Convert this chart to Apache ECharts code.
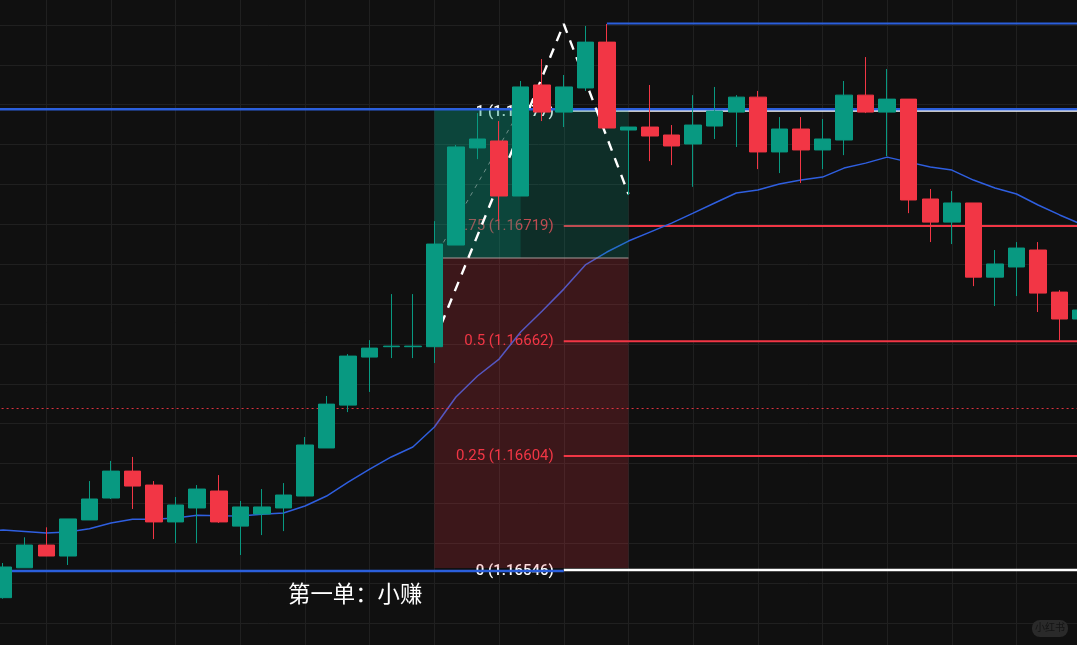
<!DOCTYPE html>
<html lang="en">
<head>
    <meta charset="UTF-8">
    <title>EURUSD trade review</title>
    <script src="https://cdn.jsdelivr.net/npm/echarts@6/dist/echarts.min.js"></script>
    <style>
        html, body { margin: 0; padding: 0; background: #101010; }
        #chart { width: 1077px; height: 645px; }
    </style>
</head>
<body>
<div id="chart"></div>

<script>
    // open, close, low, high, one row per candle
    var ohlc = [
        [1.165327, 1.165481, 1.165322, 1.165501],
        [1.165477, 1.165591, 1.165477, 1.165630],
        [1.165591, 1.165536, 1.165536, 1.165680],
        [1.165536, 1.165722, 1.165491, 1.165722],
        [1.165717, 1.165822, 1.165717, 1.165912],
        [1.165827, 1.165962, 1.165822, 1.166013],
        [1.165962, 1.165887, 1.165772, 1.166033],
        [1.165892, 1.165707, 1.165621, 1.165912],
        [1.165707, 1.165792, 1.165601, 1.165832],
        [1.165777, 1.165872, 1.165601, 1.165892],
        [1.165862, 1.165707, 1.165702, 1.165942],
        [1.165686, 1.165782, 1.165541, 1.165812],
        [1.165747, 1.165782, 1.165641, 1.165872],
        [1.165777, 1.165842, 1.165661, 1.165902],
        [1.165837, 1.166093, 1.165837, 1.166133],
        [1.166078, 1.166298, 1.166078, 1.166339],
        [1.166293, 1.166539, 1.166258, 1.166549],
        [1.166534, 1.166579, 1.166359, 1.166619],
        [1.166586, 1.166589, 1.166529, 1.166850],
        [1.166586, 1.166589, 1.166529, 1.166850],
        [1.166586, 1.167101, 1.166504, 1.167216],
        [1.167096, 1.167588, 1.167096, 1.167598],
        [1.167583, 1.167628, 1.167527, 1.167758],
        [1.167618, 1.167342, 1.167216, 1.167718],
        [1.167342, 1.167889, 1.167342, 1.167919],
        [1.167899, 1.167763, 1.167718, 1.168029],
        [1.167763, 1.167889, 1.167688, 1.167949],
        [1.167884, 1.168114, 1.167869, 1.168195],
        [1.168114, 1.167683, 1.167683, 1.168205],
        [1.167673, 1.167688, 1.167347, 1.167688],
        [1.167688, 1.167643, 1.167517, 1.167899],
        [1.167648, 1.167593, 1.167497, 1.167698],
        [1.167603, 1.167698, 1.167388, 1.167848],
        [1.167693, 1.167768, 1.167628, 1.167889],
        [1.167763, 1.167838, 1.167588, 1.167848],
        [1.167838, 1.167563, 1.167477, 1.167869],
        [1.167563, 1.167678, 1.167457, 1.167738],
        [1.167678, 1.167573, 1.167407, 1.167738],
        [1.167573, 1.167628, 1.167477, 1.167728],
        [1.167623, 1.167848, 1.167547, 1.167919],
        [1.167848, 1.167763, 1.167758, 1.168039],
        [1.167763, 1.167828, 1.167542, 1.167979],
        [1.167828, 1.167322, 1.167256, 1.167828],
        [1.167327, 1.167211, 1.167111, 1.167377],
        [1.167211, 1.167307, 1.167101, 1.167367],
        [1.167307, 1.166935, 1.166890, 1.167307],
        [1.166935, 1.167001, 1.166790, 1.167071],
        [1.166986, 1.167081, 1.166840, 1.167111],
        [1.167071, 1.166855, 1.166760, 1.167111],
        [1.166860, 1.166725, 1.166619, 1.166870],
        [1.166725, 1.166770, 1.166725, 1.166770]
    ];
    // first value sits one bar before the first candle, off the left edge
    var maLine = [
        1.165660,
        1.165666, 1.165659, 1.165651, 1.165656, 1.165673, 1.165702, 1.165720, 1.165720, 1.165727,
        1.165740, 1.165738, 1.165737, 1.165745, 1.165752, 1.165787, 1.165837, 1.165907, 1.165972,
        1.166033, 1.166083, 1.166183, 1.166334, 1.166439, 1.166524, 1.166660, 1.166765, 1.166875,
        1.166996, 1.167061, 1.167116, 1.167161, 1.167206, 1.167256, 1.167307, 1.167357, 1.167372,
        1.167402, 1.167422, 1.167437, 1.167482, 1.167507, 1.167537, 1.167512, 1.167487, 1.167472,
        1.167422, 1.167382, 1.167352, 1.167297, 1.167247, 1.167201
    ];

    // fib retracement, drawn from candle 26 to the right edge
    var fibStart = 26;
    var fibValues = [1.165466, 1.166038, 1.166614, 1.167191, 1.167771];
    var fibLabels = ['0 (1.16546)', '0.25 (1.16604)', '0.5 (1.16662)', '0.75 (1.16719)', '1 (1.16777)'];
    var fibIsWhite = [true, false, false, false, true];

    // blue levels: from candle, price
    var blueFrom = [0, 0, 28];
    var bluePrice = [1.165461, 1.167777, 1.168207];
    var lastPrice = 1.166276;

    // long position box
    var boxStart = 20, boxEnd = 29, boxSplit = 24;
    var boxTop = 1.167778, boxEntry = 1.167031, boxStop = 1.165476;

    // dashed path candle index / price
    var pathIdx = [20, 26, 29];
    var pathPrice = [1.166614, 1.168205, 1.167352];

    var LAST = ohlc.length + 1;
    var categories = [];
    for (var c = 0; c <= LAST; c++) categories.push('c' + c);

    function px(i) { return i + 1; } // first category is only padding

    var lineSeries = function (from, to, price, color, width, z, type, price2) {
        return {
            type: 'line',
            z: z,
            silent: true,
            showSymbol: false,
            symbol: 'none',
            lineStyle: {color: color, width: width, type: type || 'solid'},
            data: [[from, price], [to, price2 === undefined ? price : price2]]
        };
    };

    var series = [];

    // fib lines and labels go under the box so it tints them
    fibValues.forEach(function (v, i) {
        series.push(lineSeries(px(fibStart), LAST, v, fibIsWhite[i] ? '#ffffff' : '#f23645', i === 0 || i === 4 ? 2.6 : 2, 2));
    });
    series.push({
        type: 'custom',
        z: 2,
        silent: true,
        data: fibValues.map(function (v, i) { return [px(fibStart), v, i]; }),
        encode: {x: 0, y: 1},
        renderItem: function (params, api) {
            var p = api.coord([api.value(0), api.value(1)]);
            var i = api.value(2);
            return {
                type: 'text',
                style: {
                    x: p[0] - 10,
                    y: p[1] + (fibIsWhite[i] ? 1.5 : 0),
                    text: fibLabels[i],
                    fill: fibIsWhite[i] ? '#ffffff' : '#f23645',
                    font: (fibIsWhite[i] ? '500 ' : '') + '15px Roboto',
                    textAlign: 'right',
                    textVerticalAlign: 'middle'
                }
            };
        }
    });

    series.push({
        type: 'line',
        z: 2,
        silent: true,
        symbol: 'none',
        lineStyle: {color: '#2f5fe0', width: 1.5},
        data: maLine.map(function (v, i) { return [i, v]; })
    });

    series.push(lineSeries(0, LAST, lastPrice, 'rgba(242,54,69,0.9)', 1, 2, [2, 3]));

    // position box: reward, the brighter first part, and risk
    series.push({
        type: 'custom',
        z: 3,
        silent: true,
        data: [
            [px(boxStart), boxTop, px(boxEnd), boxEntry, 0],
            [px(boxStart), boxTop, px(boxSplit), boxEntry, 0],
            [px(boxStart), boxEntry, px(boxEnd), boxStop, 1]
        ],
        encode: {x: [0, 2], y: [1, 3]},
        renderItem: function (params, api) {
            var a = api.coord([api.value(0), api.value(1)]);
            var b = api.coord([api.value(2), api.value(3)]);
            return {
                type: 'rect',
                shape: {x: a[0], y: a[1], width: b[0] - a[0], height: b[1] - a[1]},
                style: {fill: api.value(4) === 0 ? 'rgba(8,153,129,0.22)' : 'rgba(242,54,69,0.2)'}
            };
        }
    });

    series.push(lineSeries(px(boxStart), px(boxEnd), boxEntry, '#a89a9a', 1, 4));
    series.push(lineSeries(px(boxStart), px(boxSplit), boxEntry, 'rgba(255,255,255,0.4)', 1, 4, [4, 5], boxTop));

    bluePrice.forEach(function (v, i) {
        series.push(lineSeries(blueFrom[i] === 0 ? 0 : px(blueFrom[i]), i === 0 ? px(fibStart) : LAST, v, '#2b5fdc', i === 2 ? 2 : 2.6, 4));
    });

    series.push({
        type: 'line',
        z: 4,
        silent: true,
        symbol: 'none',
        lineStyle: {color: '#ffffff', width: 2.4, type: [10, 8]},
        data: pathIdx.map(function (k, i) { return [px(k), pathPrice[i]]; })
    });

    series.push({
        type: 'candlestick',
        z: 5,
        silent: true,
        barWidth: 17,
        itemStyle: {color: '#089981', color0: '#f23645', borderColor: '#089981', borderColor0: '#f23645', borderWidth: 1},
        encode: {x: 0, y: [1, 2, 3, 4]},
        data: ohlc.map(function (d, i) { return [px(i)].concat(d); })
    });

    var myChart = echarts.init(document.getElementById('chart'));
    myChart.setOption({
        animation: false,
        backgroundColor: '#101010',
        grid: {left: -18.4, right: -25.8, top: -14.9, bottom: -17.87, outerBoundsMode: 'none'},
        tooltip: {show: false},
        xAxis: {
            type: 'category',
            data: categories,
            boundaryGap: false,
            axisLine: {show: false},
            axisTick: {show: false},
            axisLabel: {show: false},
            splitLine: {show: true, interval: 2, lineStyle: {color: '#202020', width: 1}}
        },
        yAxis: {
            type: 'value',
            min: 1.165,
            max: 1.1684,
            interval: 0.0002,
            axisLine: {show: false},
            axisTick: {show: false},
            axisLabel: {show: false},
            splitLine: {show: true, lineStyle: {color: '#202020', width: 1}}
        },
        graphic: [
            {
                type: 'text',
                left: 288,
                top: 582,
                z: 10,
                style: {text: '第一单：小赚', fill: '#ffffff', font: '22.4px "Noto Sans CJK SC"'}
            },
            {
                type: 'rect',
                left: 1032,
                top: 620,
                z: 10,
                shape: {width: 36, height: 17, r: 8},
                style: {fill: '#2a2a2a'}
            },
            {
                type: 'text',
                left: 1035,
                top: 622.5,
                z: 11,
                style: {text: '小红书', fill: '#141414', font: '10px "Noto Sans CJK SC"'}
            }
        ],
        series: series
    });
</script>

</body>
</html>
